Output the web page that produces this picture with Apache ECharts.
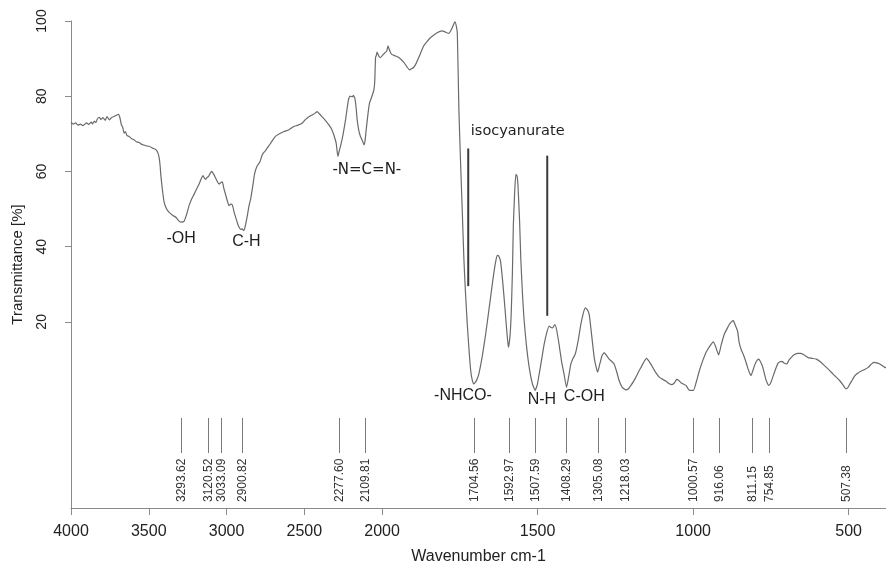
<!DOCTYPE html>
<html>
<head>
<meta charset="utf-8">
<script src="https://cdn.jsdelivr.net/npm/echarts@6/dist/echarts.min.js"></script>
<style>
  html, body { margin: 0; padding: 0; background: #fff; }
  #chart { width: 886px; height: 570px; }
</style>
</head>
<body>
<div id="chart"></div>
<script>
// FTIR spectrum: wavenumber (cm-1) and transmittance (%)
const wavenumber = [
  4000, 3985, 3970, 3955, 3940, 3925, 3915, 3900, 3885, 3870, 3861, 3850, 3840, 3830, 3818, 3808, 3795, 3780, 3768, 3754,
  3740, 3725, 3710, 3694, 3685, 3676, 3668, 3658, 3650, 3640, 3626, 3610, 3595, 3580, 3562, 3545, 3530, 3515, 3497, 3475,
  3454, 3440, 3433, 3427, 3422, 3412, 3401, 3385, 3369, 3345, 3326, 3310, 3294, 3273, 3255, 3241, 3225, 3209, 3190, 3177,
  3160, 3151, 3142, 3134, 3125, 3117, 3105, 3095, 3085, 3074, 3060, 3048, 3038, 3027, 3018, 3010, 2995, 2984, 2973, 2963,
  2950, 2941, 2930, 2920, 2908, 2899, 2890, 2881, 2865, 2855, 2845, 2830, 2820, 2805, 2785, 2770, 2750, 2720, 2686, 2660,
  2630, 2599, 2570, 2540, 2514, 2490, 2460, 2440, 2417, 2405, 2396, 2380, 2365, 2342, 2325, 2310, 2295, 2284, 2275, 2267,
  2250, 2235, 2222, 2214, 2205, 2193, 2184, 2175, 2167, 2160, 2150, 2139, 2125, 2117, 2110, 2102, 2090, 2081, 2065, 2053,
  2047, 2042, 2036, 2032, 2020, 2010, 1995, 1985, 1981, 1975, 1970, 1960, 1946, 1930, 1920, 1912, 1905, 1898, 1890, 1882,
  1866, 1855, 1844, 1823, 1807, 1795, 1785, 1778, 1772, 1766, 1761, 1758, 1753, 1748, 1742, 1737, 1732, 1726, 1720, 1715,
  1710, 1705, 1697, 1689, 1678, 1667, 1656, 1646, 1638, 1630, 1625, 1619, 1612, 1605, 1598, 1594, 1589, 1585, 1581, 1578,
  1574, 1570, 1566, 1563, 1558, 1554, 1549, 1544, 1536, 1527, 1517, 1508, 1501, 1495, 1487, 1479, 1471, 1463, 1457, 1452,
  1447, 1444, 1438, 1431, 1423, 1415, 1407, 1400, 1393, 1386, 1379, 1370, 1361, 1354, 1347, 1340, 1334, 1327, 1318, 1312,
  1307, 1300, 1293, 1286, 1278, 1270, 1262, 1254, 1246, 1238, 1228, 1216, 1208, 1200, 1192, 1184, 1175, 1165, 1158, 1150,
  1140, 1130, 1120, 1109, 1098, 1087, 1078, 1068, 1060, 1053, 1046, 1039, 1030, 1023, 1012, 999, 990, 980, 970, 959,
  947, 935, 928, 918, 910, 900, 892, 884, 877, 871, 864, 857, 852, 845, 839, 832, 825, 818, 814, 808,
  803, 796, 789, 783, 776, 770, 765, 757, 750, 744, 736, 728, 721, 714, 707, 699, 692, 685, 674, 663,
  655, 647, 640, 631, 618, 604, 590, 577, 564, 550, 540, 529, 518, 509, 502, 496, 488, 480, 470, 458,
  447, 437, 428, 419, 410, 400, 391, 384, 380
];
const transmittance = [
  73.0, 72.6, 72.9, 72.3, 72.6, 72.2, 72.4, 72.9, 72.5, 73.1, 72.6, 73.4, 73.0, 74.0, 74.4, 73.8, 74.3, 73.6, 74.6, 73.7,
  74.3, 74.6, 74.9, 75.2, 74.2, 72.4, 71.8, 70.2, 70.6, 69.5, 69.3, 68.7, 68.4, 67.9, 67.7, 67.2, 67.0, 66.8, 66.7, 66.2,
  65.8, 64.8, 63.6, 61.5, 58.8, 55.0, 51.8, 50.0, 49.1, 48.3, 47.8, 47.0, 46.5, 46.7, 48.8, 50.9, 52.6, 53.9, 55.5, 56.6,
  58.3, 58.9, 58.2, 57.9, 58.4, 58.6, 59.5, 60.0, 59.4, 58.6, 57.4, 56.6, 57.0, 57.2, 55.6, 54.4, 52.2, 50.9, 51.3, 51.1,
  49.0, 47.8, 46.3, 45.2, 44.6, 44.7, 44.3, 45.2, 48.5, 51.0, 52.6, 56.5, 59.3, 61.3, 62.6, 64.5, 65.5, 67.3, 69.3, 70.0,
  70.6, 71.1, 71.9, 72.3, 72.8, 73.9, 74.8, 75.2, 75.9, 75.4, 75.0, 74.3, 73.6, 72.4, 71.3, 69.7, 67.5, 64.0, 65.5, 66.7,
  70.0, 73.7, 77.5, 79.4, 80.0, 79.8, 80.2, 79.4, 77.0, 73.7, 71.0, 69.3, 68.0, 67.1, 68.0, 71.1, 75.5, 78.1, 80.0, 81.6,
  84.0, 90.3, 91.0, 91.7, 90.6, 90.3, 91.2, 92.0, 93.4, 92.0, 91.2, 90.8, 90.3, 89.0, 87.8, 87.0, 87.3, 87.7, 88.8, 90.3,
  93.4, 94.6, 95.6, 96.9, 97.4, 97.0, 96.7, 97.6, 98.7, 99.8, 98.5, 96.5, 76.3, 63.2, 49.0, 36.8, 28.0, 19.3, 12.0, 7.0,
  4.5, 3.5, 4.3, 6.1, 10.8, 16.7, 23.5, 29.8, 34.5, 37.7, 37.5, 36.0, 30.5, 23.7, 16.5, 13.2, 16.0, 21.9, 33.0, 45.6,
  54.0, 59.2, 58.8, 56.1, 47.0, 36.8, 28.0, 21.1, 13.8, 7.9, 3.6, 1.8, 3.3, 6.1, 10.0, 14.0, 17.0, 18.9, 18.5, 18.4,
  19.0, 19.3, 17.5, 14.0, 9.5, 6.1, 2.6, 5.5, 8.8, 10.3, 11.4, 14.8, 19.3, 22.0, 23.7, 23.2, 21.9, 17.0, 10.5, 8.0,
  6.6, 8.8, 11.0, 11.8, 11.0, 10.1, 9.5, 8.8, 6.8, 4.4, 2.6, 1.9, 2.2, 3.1, 4.1, 5.3, 6.8, 8.3, 9.4, 10.3,
  9.3, 7.9, 6.5, 5.3, 4.7, 4.2, 3.6, 3.3, 3.8, 4.7, 4.4, 3.8, 3.4, 3.1, 1.8, 1.8, 4.0, 7.0, 9.5, 11.8,
  13.5, 14.7, 13.5, 11.2, 13.8, 16.7, 18.0, 19.3, 20.0, 20.3, 19.0, 17.5, 14.5, 12.5, 11.4, 9.8, 7.9, 6.3, 5.7, 7.0,
  8.3, 9.6, 10.1, 9.3, 7.9, 5.9, 4.4, 3.1, 3.9, 5.3, 7.2, 8.9, 9.4, 9.5, 9.0, 8.8, 9.8, 10.5, 11.3, 11.6,
  11.6, 11.4, 11.0, 10.5, 10.3, 10.1, 9.3, 8.3, 7.3, 6.1, 5.3, 4.4, 3.2, 2.2, 2.6, 3.5, 4.6, 5.7, 6.4, 7.0,
  7.4, 7.9, 8.7, 9.2, 9.1, 8.8, 8.3, 7.9, 7.8
];

// Axis ticks
const xTickLabels = [4000, 3500, 3000, 2500, 2000, 1500, 1000, 500];
const yTickLabels = [20, 40, 60, 80, 100];

// Picked peak positions (cm-1)
const peakLabels = ['3293.62', '3120.52', '3033.09', '2900.82', '2277.60', '2109.81', '1704.56', '1592.97',
  '1507.59', '1408.29', '1305.08', '1218.03', '1000.57', '916.06', '811.15', '754.85', '507.38'];

// Band assignments
const bandNames = ['-OH', 'C-H', '-N=C=N-', 'isocyanurate', '-NHCO-', 'N-H', 'C-OH'];
// Isocyanurate bracket bands (cm-1)
const isocyanurateBands = [1723, 1469];

// Layout of the assignment texts (anchor in wavenumber / transmittance)
const bandNameAnchor = [[3292, 42.1], [2872, 41.3], [2098, 60.3], [1564, 70.7], [1740, 0.5], [1486, -0.8], [1350, 0]];
const bandNameFont = ['Liberation Sans', 'Liberation Sans', 'DejaVu Sans', 'DejaVu Sans', 'Liberation Sans', 'Liberation Sans', 'Liberation Sans'];
const bandNameSize = [16, 16, 15, 14.5, 16, 16, 16];
const bracketSpan = [[66.1, 29.5], [64.2, 21.6]];

// Spectrometer-style x scale: region above 2000 cm-1 compressed by a factor of 2
const SPLIT = 2000;
const toAxis = w => (w > SPLIT ? SPLIT + (w - SPLIT) / 2 : w);
const fromAxis = u => (u > SPLIT ? SPLIT + (u - SPLIT) * 2 : u);

const Y_MIN = -29.5;
const spectrum = wavenumber.map((w, i) => [toAxis(w), transmittance[i]]);

const chart = echarts.init(document.getElementById('chart'), null, { renderer: 'canvas' });

const option = {
  backgroundColor: '#ffffff',
  animation: false,
  grid: { left: 71, right: 0, top: 21, bottom: 58, containLabel: false },
  xAxis: {
    type: 'value',
    inverse: true,
    min: toAxis(380),
    max: toAxis(4000),
    name: 'Wavenumber cm-1',
    nameLocation: 'middle',
    nameGap: 41,
    nameTextStyle: { fontFamily: 'Liberation Sans', fontSize: 16, color: '#222' },
    axisLine: { onZero: false, lineStyle: { color: '#8a8a8a', width: 1 } },
    axisTick: { show: true, length: 7, lineStyle: { color: '#8a8a8a' }, customValues: xTickLabels.map(toAxis) },
    axisLabel: {
      customValues: xTickLabels.map(toAxis),
      formatter: v => String(Math.round(fromAxis(v))),
      fontFamily: 'Liberation Sans', fontSize: 16, color: '#222', margin: 16
    },
    splitLine: { show: false }
  },
  yAxis: {
    type: 'value',
    min: Y_MIN,
    max: 100,
    name: 'Transmittance [%]',
    nameLocation: 'middle',
    nameRotate: 90,
    nameGap: 46,
    nameTextStyle: { fontFamily: 'Liberation Sans', fontSize: 15, color: '#222' },
    axisLine: { show: true, onZero: false, lineStyle: { color: '#8a8a8a', width: 1 } },
    axisTick: { show: true, length: 6, lineStyle: { color: '#8a8a8a' }, customValues: yTickLabels },
    axisLabel: {
      customValues: yTickLabels,
      rotate: 90,
      fontFamily: 'Liberation Sans', fontSize: 14, color: '#222', margin: 22
    },
    splitLine: { show: false }
  },
  series: [
    {
      name: 'spectrum',
      type: 'line',
      data: spectrum,
      showSymbol: false,
      smooth: 0.15,
      lineStyle: { color: '#6a6a6a', width: 1.2 },
      z: 3
    },
    {
      // peak pick markers: short tick plus rotated position label above the x axis
      name: 'peaks',
      type: 'custom',
      data: peakLabels.map(s => [toAxis(parseFloat(s)), Y_MIN]),
      renderItem: (params, api) => {
        const p = api.coord([api.value(0), api.value(1)]);
        const x = Math.round(p[0]) + 0.5;
        const base = p[1];
        return {
          type: 'group',
          children: [
            { type: 'line', shape: { x1: x, y1: base - 90, x2: x, y2: base - 55 },
              style: { stroke: '#7a7a7a', lineWidth: 1 } },
            { type: 'text', x: x + 0.5, y: base - 6, rotation: Math.PI / 2,
              style: { text: peakLabels[params.dataIndex], fontFamily: 'Liberation Sans', fontSize: 12,
                fill: '#333', align: 'left', verticalAlign: 'middle' } }
          ]
        };
      },
      z: 4
    },
    {
      // isocyanurate bracket lines
      name: 'brackets',
      type: 'custom',
      data: isocyanurateBands.map((w, i) => [toAxis(w), bracketSpan[i][0], bracketSpan[i][1]]),
      renderItem: (params, api) => {
        const a = api.coord([api.value(0), api.value(1)]);
        const b = api.coord([api.value(0), api.value(2)]);
        return { type: 'line', shape: { x1: a[0], y1: a[1], x2: b[0], y2: b[1] },
          style: { stroke: '#3a3a3a', lineWidth: 2 } };
      },
      z: 4
    },
    {
      // band assignment texts
      name: 'bands',
      type: 'custom',
      data: bandNameAnchor.map(a => [toAxis(a[0]), a[1]]),
      renderItem: (params, api) => {
        const i = params.dataIndex;
        const p = api.coord([api.value(0), api.value(1)]);
        return { type: 'text', x: p[0], y: p[1],
          style: { text: bandNames[i], fontFamily: bandNameFont[i], fontSize: bandNameSize[i],
            fill: '#1e1e1e', align: 'center', verticalAlign: 'middle' } };
      },
      z: 5
    }
  ]
};

chart.setOption(option);
</script>
</body>
</html>
